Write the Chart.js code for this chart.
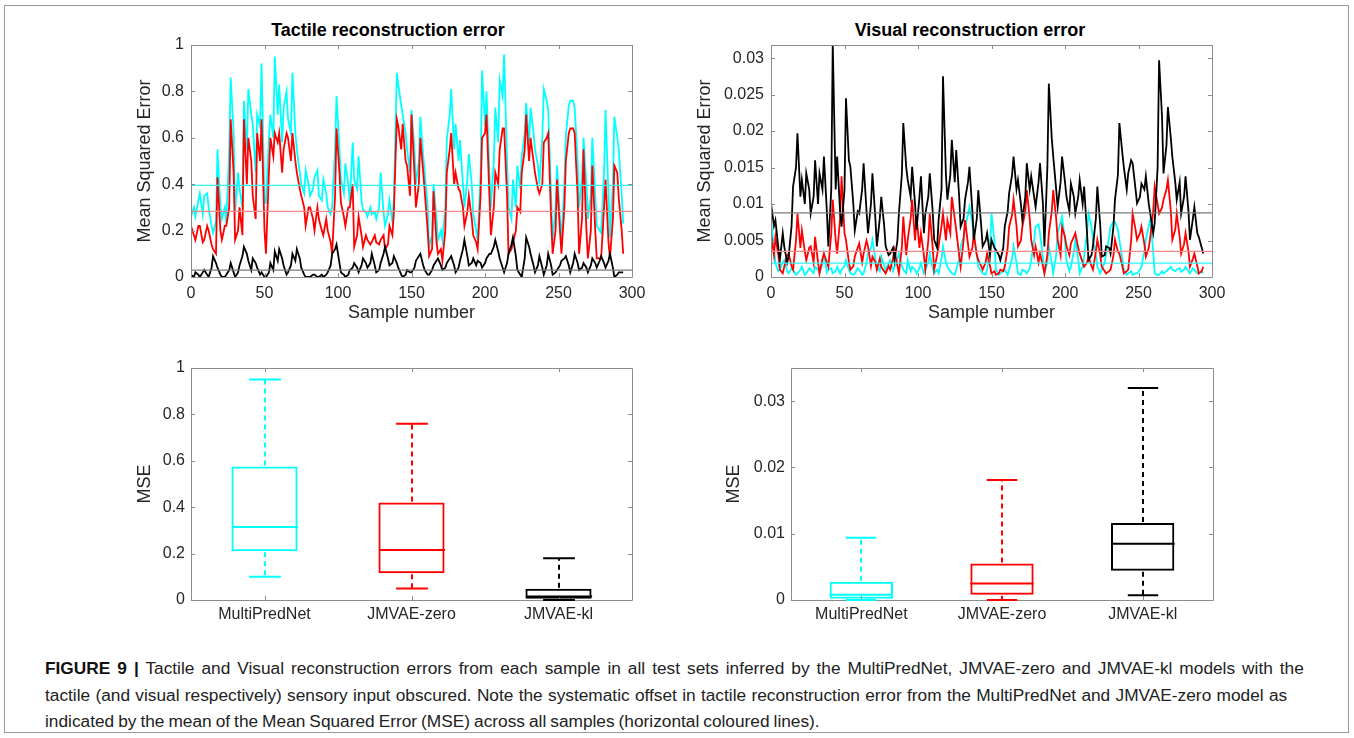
<!DOCTYPE html>
<html>
<head>
<meta charset="utf-8">
<script src="https://cdn.jsdelivr.net/npm/chart.js@4.4.1/dist/chart.umd.min.js"></script>
<style>
    html, body { margin: 0; padding: 0; background: #fff; }
    body { width: 1354px; height: 738px; position: relative; overflow: hidden; font-family: "Liberation Sans", Arial, sans-serif; }
    .frame { position: absolute; left: 4px; top: 5px; width: 1345px; height: 728px; border: 1px solid #9a9a9a; box-sizing: border-box; }
    canvas { position: absolute; }
    .title { position: absolute; top: 20px; width: 400px; text-align: center; font-size: 18px; line-height: 20px; font-weight: bold; color: #000; }
    .caption { position: absolute; left: 45px; top: 655px; font-size: 17.3px; line-height: 26.5px; color: #222; white-space: nowrap; }
    .caption b { color: #111; }
</style>
</head>
<body>
<div class="frame"></div>
<div class="title" style="left:188px">Tactile reconstruction error</div>
<div class="title" style="left:770px">Visual reconstruction error</div>
<canvas id="tactileLine" width="576" height="330" style="left:100px;top:0px"></canvas>
<canvas id="visualLine" width="579" height="330" style="left:680px;top:0px"></canvas>
<canvas id="tactileBox" width="576" height="300" style="left:100px;top:340px"></canvas>
<canvas id="visualBox" width="579" height="300" style="left:680px;top:340px"></canvas>
<div class="caption">
<div style="word-spacing:2.2px"><b>FIGURE 9 |</b> Tactile and Visual reconstruction errors from each sample in all test sets inferred by the MultiPredNet, JMVAE-zero and JMVAE-kl models with the</div>
<div style="word-spacing:0.5px">tactile (and visual respectively) sensory input obscured. Note the systematic offset in tactile reconstruction error from the MultiPredNet and JMVAE-zero model as</div>
<div style="word-spacing:-0.8px">indicated by the mean of the Mean Squared Error (MSE) across all samples (horizontal coloured lines).</div>
</div>
<script>
// data: values at every third sample plus one reading in between
var sampleNumbers = [0, 3, 6, 9, 12, 15, 18, 21, 24, 27,
    30, 33, 36, 39, 42, 45, 48, 51, 54, 57,
    60, 63, 66, 69, 72, 75, 78, 81, 84, 87,
    90, 93, 96, 99, 102, 105, 108, 111, 114, 117,
    120, 123, 126, 129, 132, 135, 138, 141, 144, 147,
    150, 153, 156, 159, 162, 165, 168, 171, 174, 177,
    180, 183, 186, 189, 192, 195, 198, 201, 204, 207,
    210, 213, 216, 219, 222, 225, 228, 231, 234, 237,
    240, 243, 246, 249, 252, 255, 258, 261, 264, 267,
    270, 273, 276, 279, 282, 285, 288, 291, 294];

var midSampleNumbers = [2, 5, 8, 11, 14, 17, 20, 23, 26, 29,
    32, 35, 38, 41, 44, 47, 50, 53, 56, 59,
    62, 65, 68, 71, 74, 77, 80, 83, 86, 89,
    92, 95, 98, 101, 104, 107, 110, 113, 116, 119,
    122, 125, 128, 131, 134, 137, 140, 143, 146, 149,
    152, 155, 158, 161, 164, 167, 170, 173, 176, 179,
    182, 185, 188, 191, 194, 197, 200, 203, 206, 209,
    212, 215, 218, 221, 224, 227, 230, 233, 236, 239,
    242, 245, 248, 251, 254, 257, 260, 263, 266, 269,
    272, 275, 278, 281, 284, 287, 290, 293];

var xTicks = [0, 50, 100, 150, 200, 250, 300];
var tactileTicks = [0, 0.2, 0.4, 0.6, 0.8, 1];
var visualTicks = [0, 0.005, 0.01, 0.015, 0.02, 0.025, 0.03];
var visualBoxTicks = [0, 0.01, 0.02, 0.03];

// Tactile - MultiPredNet (cyan)
var tactileMulti = [0.26, 0.26, 0.36, 0.35, 0.30, 0.19, 0.55, 0.25, 0.23, 0.86,
    0.28, 0.38, 0.76, 0.81, 0.66, 0.70, 0.92, 0.32, 0.70, 0.95,
    0.83, 0.73, 0.68, 0.88, 0.55, 0.40, 0.46, 0.35, 0.43, 0.35,
    0.42, 0.30, 0.30, 0.78, 0.42, 0.49, 0.32, 0.42, 0.52, 0.29,
    0.26, 0.27, 0.25, 0.45, 0.22, 0.33, 0.34, 0.83, 0.70, 0.55,
    0.72, 0.40, 0.69, 0.45, 0.13, 0.40, 0.16, 0.16, 0.59, 0.81,
    0.66, 0.59, 0.30, 0.53, 0.27, 0.16, 0.89, 0.80, 0.30, 0.73,
    0.85, 0.96, 0.30, 0.42, 0.48, 0.52, 0.75, 0.73, 0.55, 0.40,
    0.81, 0.72, 0.16, 0.48, 0.16, 0.61, 0.76, 0.73, 0.30, 0.60,
    0.25, 0.60, 0.22, 0.19, 0.72, 0.17, 0.69, 0.55, 0.23];
var tactileMultiMid = [0.30, 0.33, 0.27, 0.36, 0.22, 0.24, 0.30, 0.30, 0.55, 0.62,
    0.45, 0.30, 0.55, 0.70, 0.45, 0.65, 0.32, 0.60, 0.60, 0.70,
    0.58, 0.80, 0.62, 0.62, 0.45, 0.36, 0.40, 0.38, 0.46, 0.33,
    0.36, 0.27, 0.55, 0.55, 0.36, 0.40, 0.58, 0.38, 0.33, 0.28,
    0.30, 0.28, 0.30, 0.28, 0.27, 0.24, 0.88, 0.74, 0.62, 0.45,
    0.55, 0.50, 0.52, 0.30, 0.18, 0.25, 0.20, 0.30, 0.70, 0.55,
    0.50, 0.40, 0.42, 0.40, 0.20, 0.45, 0.65, 0.45, 0.50, 0.58,
    0.78, 0.50, 0.25, 0.30, 0.38, 0.62, 0.58, 0.62, 0.48, 0.60,
    0.76, 0.35, 0.30, 0.25, 0.40, 0.74, 0.76, 0.50, 0.42, 0.40,
    0.35, 0.35, 0.20, 0.45, 0.35, 0.40, 0.60, 0.35];

// Tactile - JMVAE-zero (red)
var tactileZero = [0.22, 0.16, 0.22, 0.16, 0.20, 0.12, 0.43, 0.16, 0.22, 0.68,
    0.16, 0.30, 0.68, 0.60, 0.35, 0.62, 0.68, 0.10, 0.60, 0.62,
    0.62, 0.55, 0.60, 0.62, 0.45, 0.35, 0.22, 0.30, 0.20, 0.25,
    0.18, 0.20, 0.10, 0.64, 0.32, 0.22, 0.30, 0.13, 0.26, 0.13,
    0.16, 0.15, 0.15, 0.16, 0.12, 0.22, 0.28, 0.65, 0.66, 0.48,
    0.70, 0.30, 0.60, 0.37, 0.09, 0.37, 0.10, 0.07, 0.45, 0.62,
    0.45, 0.37, 0.22, 0.35, 0.18, 0.12, 0.60, 0.70, 0.18, 0.45,
    0.55, 0.64, 0.10, 0.15, 0.30, 0.45, 0.70, 0.60, 0.45, 0.36,
    0.58, 0.62, 0.10, 0.42, 0.10, 0.50, 0.64, 0.62, 0.10, 0.55,
    0.08, 0.48, 0.08, 0.08, 0.42, 0.08, 0.48, 0.34, 0.10];
var tactileZeroMid = [0.18, 0.22, 0.15, 0.22, 0.14, 0.10, 0.20, 0.22, 0.30, 0.45,
    0.20, 0.18, 0.40, 0.50, 0.25, 0.50, 0.20, 0.45, 0.52, 0.58,
    0.45, 0.62, 0.50, 0.50, 0.38, 0.30, 0.30, 0.25, 0.30, 0.20,
    0.25, 0.15, 0.35, 0.45, 0.26, 0.30, 0.40, 0.18, 0.18, 0.18,
    0.14, 0.18, 0.14, 0.18, 0.14, 0.18, 0.68, 0.55, 0.50, 0.35,
    0.45, 0.40, 0.45, 0.20, 0.12, 0.15, 0.12, 0.20, 0.55, 0.40,
    0.38, 0.30, 0.28, 0.25, 0.15, 0.35, 0.62, 0.35, 0.30, 0.40,
    0.64, 0.35, 0.12, 0.20, 0.28, 0.55, 0.50, 0.50, 0.38, 0.40,
    0.60, 0.25, 0.20, 0.20, 0.30, 0.62, 0.64, 0.35, 0.25, 0.20,
    0.20, 0.20, 0.08, 0.30, 0.15, 0.25, 0.45, 0.20];

// Tactile - JMVAE-kl (black)
var tactileKl = [0.01, 0.02, 0.00, 0.03, 0.00, 0.09, 0.04, 0.00, 0.01, 0.06,
    0.00, 0.05, 0.13, 0.07, 0.08, 0.04, 0.02, 0.00, 0.06, 0.11,
    0.12, 0.05, 0.02, 0.10, 0.12, 0.04, 0.00, 0.00, 0.01, 0.00,
    0.00, 0.02, 0.10, 0.14, 0.02, 0.00, 0.03, 0.06, 0.02, 0.08,
    0.04, 0.10, 0.02, 0.06, 0.13, 0.05, 0.09, 0.04, 0.00, 0.03,
    0.02, 0.07, 0.10, 0.03, 0.01, 0.05, 0.08, 0.03, 0.06, 0.09,
    0.02, 0.07, 0.16, 0.05, 0.08, 0.07, 0.04, 0.08, 0.10, 0.16,
    0.08, 0.02, 0.10, 0.17, 0.03, 0.00, 0.17, 0.10, 0.02, 0.09,
    0.01, 0.10, 0.01, 0.03, 0.07, 0.09, 0.02, 0.10, 0.03, 0.06,
    0.02, 0.08, 0.04, 0.09, 0.04, 0.10, 0.00, 0.02, 0.02];
var tactileKlMid = [0.00, 0.01, 0.02, 0.01, 0.04, 0.06, 0.01, 0.00, 0.03, 0.02,
    0.02, 0.09, 0.10, 0.03, 0.06, 0.01, 0.00, 0.02, 0.03, 0.07,
    0.08, 0.01, 0.05, 0.07, 0.08, 0.01, 0.00, 0.01, 0.00, 0.01,
    0.01, 0.05, 0.12, 0.06, 0.01, 0.01, 0.04, 0.04, 0.05, 0.06,
    0.06, 0.05, 0.03, 0.10, 0.08, 0.06, 0.06, 0.01, 0.01, 0.02,
    0.04, 0.09, 0.05, 0.01, 0.03, 0.07, 0.05, 0.04, 0.08, 0.05,
    0.04, 0.12, 0.09, 0.06, 0.05, 0.06, 0.06, 0.10, 0.13, 0.11,
    0.04, 0.06, 0.14, 0.09, 0.01, 0.08, 0.13, 0.05, 0.05, 0.04,
    0.05, 0.05, 0.02, 0.05, 0.08, 0.05, 0.06, 0.06, 0.04, 0.04,
    0.05, 0.06, 0.07, 0.06, 0.07, 0.04, 0.01, 0.02];

// Visual - MultiPredNet (cyan)
var visualMulti = [0.0078, 0.0019, 0.0010, 0.0023, 0.0005, 0.0010, 0.0005, 0.0014, 0.0005, 0.0010,
    0.0014, 0.0005, 0.0032, 0.0010, 0.0005, 0.0014, 0.0010, 0.0023, 0.0005, 0.0005,
    0.0010, 0.0005, 0.0032, 0.0051, 0.0014, 0.0028, 0.0010, 0.0023, 0.0014, 0.0032,
    0.0010, 0.0023, 0.0014, 0.0005, 0.0019, 0.0010, 0.0032, 0.0005, 0.0005, 0.0042,
    0.0014, 0.0005, 0.0010, 0.0042, 0.0069, 0.0096, 0.0051, 0.0014, 0.0005, 0.0010,
    0.0087, 0.0010, 0.0005, 0.0010, 0.0010, 0.0042, 0.0005, 0.0010, 0.0005, 0.0023,
    0.0069, 0.0060, 0.0005, 0.0042, 0.0005, 0.0060, 0.0083, 0.0023, 0.0014, 0.0051,
    0.0005, 0.0028, 0.0087, 0.0051, 0.0014, 0.0010, 0.0032, 0.0069, 0.0076, 0.0051,
    0.0010, 0.0005, 0.0003, 0.0005, 0.0014, 0.0051, 0.0078, 0.0005, 0.0003, 0.0005,
    0.0010, 0.0010, 0.0010, 0.0007, 0.0014, 0.0005, 0.0010, 0.0005, 0.0005];
var visualMultiMid = [0.0040, 0.0008, 0.0020, 0.0008, 0.0012, 0.0003, 0.0010, 0.0003, 0.0012, 0.0005,
    0.0010, 0.0018, 0.0006, 0.0012, 0.0008, 0.0005, 0.0015, 0.0010, 0.0003, 0.0012,
    0.0003, 0.0020, 0.0040, 0.0025, 0.0008, 0.0015, 0.0018, 0.0008, 0.0025, 0.0015,
    0.0005, 0.0008, 0.0010, 0.0012, 0.0005, 0.0020, 0.0012, 0.0010, 0.0025, 0.0020,
    0.0008, 0.0003, 0.0025, 0.0055, 0.0085, 0.0075, 0.0030, 0.0008, 0.0003, 0.0040,
    0.0050, 0.0003, 0.0008, 0.0003, 0.0025, 0.0020, 0.0003, 0.0008, 0.0012, 0.0050,
    0.0072, 0.0025, 0.0020, 0.0020, 0.0030, 0.0075, 0.0050, 0.0008, 0.0035, 0.0025,
    0.0015, 0.0060, 0.0070, 0.0030, 0.0005, 0.0020, 0.0055, 0.0076, 0.0065, 0.0025,
    0.0003, 0.0008, 0.0005, 0.0010, 0.0035, 0.0070, 0.0035, 0.0003, 0.0008, 0.0008,
    0.0014, 0.0008, 0.0012, 0.0010, 0.0008, 0.0012, 0.0005, 0.0008];

// Visual - JMVAE-zero (red)
var visualZero = [0.0060, 0.0055, 0.0010, 0.0014, 0.0032, 0.0010, 0.0087, 0.0064, 0.0023, 0.0042,
    0.0055, 0.0005, 0.0032, 0.0014, 0.0106, 0.0032, 0.0138, 0.0051, 0.0010, 0.0028,
    0.0046, 0.0032, 0.0042, 0.0028, 0.0010, 0.0014, 0.0005, 0.0010, 0.0037, 0.0005,
    0.0083, 0.0051, 0.0106, 0.0083, 0.0060, 0.0010, 0.0087, 0.0010, 0.0042, 0.0087,
    0.0078, 0.0110, 0.0064, 0.0014, 0.0078, 0.0028, 0.0060, 0.0023, 0.0010, 0.0032,
    0.0005, 0.0003, 0.0010, 0.0014, 0.0069, 0.0106, 0.0042, 0.0069, 0.0119, 0.0051,
    0.0042, 0.0032, 0.0005, 0.0060, 0.0119, 0.0051, 0.0069, 0.0042, 0.0046, 0.0060,
    0.0032, 0.0014, 0.0028, 0.0010, 0.0051, 0.0014, 0.0005, 0.0010, 0.0051, 0.0032,
    0.0005, 0.0010, 0.0087, 0.0051, 0.0069, 0.0028, 0.0055, 0.0124, 0.0087, 0.0106,
    0.0133, 0.0051, 0.0087, 0.0032, 0.0060, 0.0014, 0.0032, 0.0005, 0.0014];
var visualZeroMid = [0.0030, 0.0030, 0.0005, 0.0030, 0.0015, 0.0050, 0.0040, 0.0035, 0.0040, 0.0020,
    0.0020, 0.0025, 0.0020, 0.0060, 0.0050, 0.0080, 0.0060, 0.0020, 0.0015, 0.0040,
    0.0020, 0.0050, 0.0015, 0.0020, 0.0025, 0.0008, 0.0015, 0.0025, 0.0015, 0.0040,
    0.0030, 0.0080, 0.0050, 0.0040, 0.0030, 0.0050, 0.0040, 0.0030, 0.0070, 0.0050,
    0.0060, 0.0080, 0.0030, 0.0050, 0.0045, 0.0040, 0.0030, 0.0015, 0.0020, 0.0015,
    0.0008, 0.0005, 0.0008, 0.0040, 0.0085, 0.0070, 0.0050, 0.0090, 0.0080, 0.0030,
    0.0020, 0.0015, 0.0030, 0.0090, 0.0080, 0.0030, 0.0055, 0.0030, 0.0055, 0.0040,
    0.0020, 0.0020, 0.0015, 0.0035, 0.0030, 0.0008, 0.0008, 0.0030, 0.0035, 0.0015,
    0.0008, 0.0050, 0.0065, 0.0060, 0.0045, 0.0040, 0.0090, 0.0100, 0.0095, 0.0120,
    0.0090, 0.0065, 0.0055, 0.0045, 0.0035, 0.0025, 0.0015, 0.0008];

// Visual - JMVAE-kl (black)
var visualKl = [0.0101, 0.0078, 0.0023, 0.0042, 0.0028, 0.0124, 0.0197, 0.0133, 0.0142, 0.0087,
    0.0160, 0.0142, 0.0165, 0.0042, 0.0320, 0.0165, 0.0069, 0.0245, 0.0151, 0.0064,
    0.0087, 0.0156, 0.0060, 0.0142, 0.0042, 0.0110, 0.0042, 0.0032, 0.0023, 0.0087,
    0.0211, 0.0133, 0.0151, 0.0065, 0.0138, 0.0087, 0.0142, 0.0051, 0.0078, 0.0275,
    0.0106, 0.0188, 0.0174, 0.0069, 0.0106, 0.0151, 0.0051, 0.0119, 0.0042, 0.0060,
    0.0051, 0.0037, 0.0023, 0.0069, 0.0115, 0.0165, 0.0133, 0.0078, 0.0156, 0.0138,
    0.0096, 0.0156, 0.0042, 0.0265, 0.0165, 0.0096, 0.0165, 0.0110, 0.0128, 0.0087,
    0.0133, 0.0124, 0.0023, 0.0042, 0.0124, 0.0028, 0.0042, 0.0032, 0.0106, 0.0211,
    0.0151, 0.0142, 0.0156, 0.0101, 0.0128, 0.0138, 0.0087, 0.0074, 0.0297, 0.0142,
    0.0233, 0.0165, 0.0106, 0.0087, 0.0138, 0.0051, 0.0096, 0.0055, 0.0032];
var visualKlMid = [0.0070, 0.0040, 0.0060, 0.0020, 0.0070, 0.0150, 0.0110, 0.0100, 0.0120, 0.0110,
    0.0100, 0.0120, 0.0090, 0.0120, 0.0120, 0.0090, 0.0120, 0.0160, 0.0100, 0.0090,
    0.0120, 0.0090, 0.0100, 0.0080, 0.0080, 0.0070, 0.0030, 0.0040, 0.0050, 0.0140,
    0.0150, 0.0110, 0.0100, 0.0110, 0.0060, 0.0110, 0.0090, 0.0040, 0.0120, 0.0140,
    0.0140, 0.0130, 0.0110, 0.0080, 0.0130, 0.0090, 0.0080, 0.0070, 0.0050, 0.0030,
    0.0040, 0.0030, 0.0040, 0.0090, 0.0140, 0.0120, 0.0100, 0.0110, 0.0120, 0.0110,
    0.0130, 0.0100, 0.0150, 0.0190, 0.0120, 0.0130, 0.0130, 0.0090, 0.0110, 0.0110,
    0.0100, 0.0060, 0.0030, 0.0080, 0.0070, 0.0030, 0.0040, 0.0070, 0.0140, 0.0170,
    0.0120, 0.0160, 0.0120, 0.0110, 0.0120, 0.0100, 0.0060, 0.0150, 0.0220, 0.0180,
    0.0190, 0.0130, 0.0130, 0.0110, 0.0090, 0.0080, 0.0060, 0.0040];

// means across all samples (horizontal lines): MultiPredNet, JMVAE-zero, JMVAE-kl
var tactileMeans = [0.395, 0.283, 0.030];
var visualMeans = [0.0019, 0.0035, 0.0088];

// box plot statistics
var boxLabels = ['MultiPredNet', 'JMVAE-zero', 'JMVAE-kl'];
var tactileMin = [0.10, 0.05, 0.0];
var tactileQ1 = [0.21, 0.115, 0.005];
var tactileMed = [0.315, 0.215, 0.015];
var tactileQ3 = [0.575, 0.42, 0.048];
var tactileMax = [0.95, 0.76, 0.18];
var visualMin = [0.0, 0.0, 0.0007];
var visualQ1 = [0.0002, 0.0008, 0.0044];
var visualMed = [0.0008, 0.0025, 0.0085];
var visualQ3 = [0.00275, 0.0055, 0.0116];
var visualMax = [0.0094, 0.0181, 0.032];

var modelColors = ['#00ffff', '#ff0000', '#000000'];
var meanColors = ['#33f2f2', '#f48a8a', '#7a7a7a'];

Chart.defaults.font.family = '"Liberation Sans", Arial, Helvetica, sans-serif';
Chart.defaults.color = '#262626';

// MATLAB style box around the axes with inward ticks
var axesBox = {
    id: 'axesBox',
    afterDatasetsDraw: function(chart) {
        var ctx = chart.ctx, a = chart.chartArea;
        var xs = chart.scales.x, ys = chart.scales.y;
        ctx.save();
        ctx.strokeStyle = '#8c8c8c';
        ctx.lineWidth = 1;
        ctx.beginPath();
        ctx.rect(Math.round(a.left) + 0.5, Math.round(a.top) + 0.5, Math.round(a.right - a.left), Math.round(a.bottom - a.top));
        xs.ticks.forEach(function(t, i) {
            var px = Math.round(xs.getPixelForTick(i)) + 0.5;
            ctx.moveTo(px, a.bottom); ctx.lineTo(px, a.bottom - 4);
            ctx.moveTo(px, a.top); ctx.lineTo(px, a.top + 4);
        });
        ys.ticks.forEach(function(t, i) {
            var py = Math.round(ys.getPixelForTick(i)) + 0.5;
            ctx.moveTo(a.left, py); ctx.lineTo(a.left + 4, py);
            ctx.moveTo(a.right, py); ctx.lineTo(a.right - 4, py);
        });
        ctx.stroke();
        ctx.restore();
    }
};

function fixedTicks(list) {
    return function(scale) {
        scale.ticks = list.map(function(v) { return {value: v}; });
    };
}

// put the every-third readings and the in-between readings in sample order
function mergeSeries(main, mid) {
    var pts = sampleNumbers.map(function(s, i) { return {x: s, y: main[i]}; })
        .concat(midSampleNumbers.map(function(s, i) { return {x: s, y: mid[i]}; }));
    return pts.sort(function(a, b) { return a.x - b.x; });
}

// Line Charts

function lineChart(id, series, means, yTicks, yMax, yTitlePad, padRight) {
    var meanLine = function(m) {
        return [{x: xTicks[0], y: m}, {x: xTicks[xTicks.length - 1], y: m}];
    };
    var datasets = [];
    means.forEach(function(m, i) {
        datasets.push({data: meanLine(m), borderColor: meanColors[i], borderWidth: 1.3, order: 0});
    });
    series.forEach(function(pts, i) {
        datasets.push({data: pts, borderColor: modelColors[i], borderWidth: 1.8, order: 3 - i});
    });

    var ctx = document.getElementById(id).getContext('2d');
    return new Chart(ctx, {
        type: 'line',
        data: {datasets: datasets},
        options: {
            responsive: false,
            animation: false,
            elements: {point: {radius: 0}, line: {tension: 0, fill: false}},
            layout: {padding: {left: 0, right: padRight, top: 45, bottom: 0}},
            plugins: {legend: {display: false}, tooltip: {enabled: false}},
            scales: {
                x: {
                    type: 'linear',
                    min: 0,
                    max: 300,
                    afterBuildTicks: fixedTicks(xTicks),
                    afterFit: function(s) { s.height = 53; },
                    grid: {display: false, drawTicks: false},
                    border: {display: false},
                    ticks: {font: {size: 16}, padding: 7, maxRotation: 0, autoSkip: false},
                    title: {display: true, text: 'Sample number', font: {size: 18}, padding: {top: 0, bottom: 6}}
                },
                y: {
                    min: 0,
                    max: yMax,
                    afterBuildTicks: fixedTicks(yTicks),
                    afterFit: function(s) { s.width = 91; },
                    grid: {display: false, drawTicks: false},
                    border: {display: false},
                    ticks: {font: {size: 16}, padding: 7, callback: function(v) { return String(v); }},
                    title: {display: true, text: 'Mean Squared Error', font: {size: 18}, padding: {top: yTitlePad, bottom: 0}}
                }
            }
        },
        plugins: [axesBox]
    });
}

lineChart('tactileLine', [
    mergeSeries(tactileMulti, tactileMultiMid),
    mergeSeries(tactileZero, tactileZeroMid),
    mergeSeries(tactileKl, tactileKlMid)
], tactileMeans, tactileTicks, 1, 34, 44);

lineChart('visualLine', [
    mergeSeries(visualMulti, visualMultiMid),
    mergeSeries(visualZero, visualZeroMid),
    mergeSeries(visualKl, visualKlMid)
], visualMeans, visualTicks, 0.0318, 14, 47);

// Box Plots

function whiskers(lo, med, hi, q1, q3) {
    return {
        id: 'whiskers',
        afterDatasetsDraw: function(chart) {
            var ctx = chart.ctx, y = chart.scales.y;
            chart.getDatasetMeta(0).data.forEach(function(bar, i) {
                var cx = Math.round(bar.x), half = bar.width / 2, cap = bar.width * 0.24;
                ctx.save();
                ctx.strokeStyle = modelColors[i];
                ctx.lineWidth = 2;
                ctx.beginPath();
                ctx.moveTo(cx - half, y.getPixelForValue(med[i]));
                ctx.lineTo(cx + half, y.getPixelForValue(med[i]));
                ctx.moveTo(cx - cap, y.getPixelForValue(hi[i]));
                ctx.lineTo(cx + cap, y.getPixelForValue(hi[i]));
                ctx.moveTo(cx - cap, y.getPixelForValue(lo[i]));
                ctx.lineTo(cx + cap, y.getPixelForValue(lo[i]));
                ctx.stroke();
                ctx.setLineDash([5, 4]);
                ctx.beginPath();
                ctx.moveTo(cx, y.getPixelForValue(q3[i]) - 1);
                ctx.lineTo(cx, y.getPixelForValue(hi[i]));
                ctx.moveTo(cx, y.getPixelForValue(q1[i]) + 1);
                ctx.lineTo(cx, y.getPixelForValue(lo[i]));
                ctx.stroke();
                ctx.restore();
            });
        }
    };
}

function boxChart(id, lo, q1, med, q3, hi, yTicks, yMax, yTitlePad, yWidth, padRight) {
    var ctx = document.getElementById(id).getContext('2d');
    return new Chart(ctx, {
        type: 'bar',
        data: {
            labels: boxLabels,
            datasets: [{
                data: q1.map(function(v, i) { return [v, q3[i]]; }),
                backgroundColor: 'rgba(0,0,0,0)',
                borderColor: modelColors,
                borderWidth: 2,
                borderSkipped: false,
                barPercentage: 0.45,
                categoryPercentage: 1
            }]
        },
        options: {
            responsive: false,
            animation: false,
            layout: {padding: {left: 0, right: padRight, top: 28, bottom: 0}},
            plugins: {legend: {display: false}, tooltip: {enabled: false}},
            scales: {
                x: {
                    afterFit: function(s) { s.height = 40; },
                    grid: {display: false, drawTicks: false},
                    border: {display: false},
                    ticks: {font: {size: 16}, padding: 5, color: '#262626'}
                },
                y: {
                    min: 0,
                    max: yMax,
                    afterBuildTicks: fixedTicks(yTicks),
                    afterFit: function(s) { s.width = yWidth; },
                    grid: {display: false, drawTicks: false},
                    border: {display: false},
                    ticks: {font: {size: 16}, padding: 6, callback: function(v) { return String(v); }},
                    title: {display: true, text: 'MSE', font: {size: 18}, padding: {top: yTitlePad, bottom: 0}}
                }
            }
        },
        plugins: [axesBox, whiskers(lo, med, hi, q1, q3)]
    });
}

boxChart('tactileBox', tactileMin, tactileQ1, tactileMed, tactileQ3, tactileMax, tactileTicks, 1, 34, 91, 44);
boxChart('visualBox', visualMin, visualQ1, visualMed, visualQ3, visualMax, visualBoxTicks, 0.035, 43, 111, 46);
</script>
</body>
</html>
